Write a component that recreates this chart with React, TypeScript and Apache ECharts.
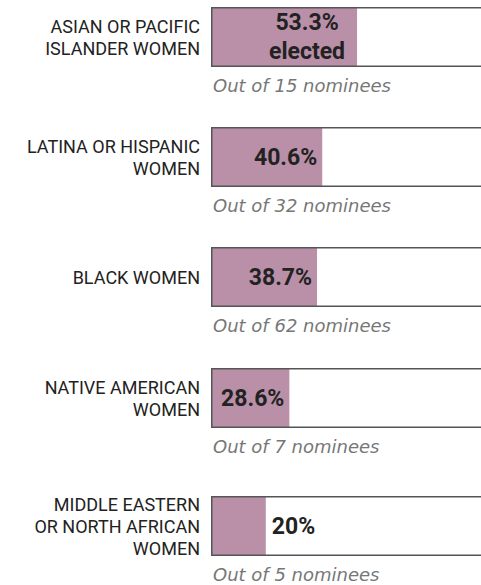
import React, { useEffect, useRef } from "react";
import * as echarts from "echarts";

// ---- data ----
const categories = [
  "ASIAN OR PACIFIC\nISLANDER WOMEN",
  "LATINA OR HISPANIC\nWOMEN",
  "BLACK WOMEN",
  "NATIVE AMERICAN\nWOMEN",
  "MIDDLE EASTERN\nOR NORTH AFRICAN\nWOMEN",
];
const electedPct = [53.3, 40.6, 38.7, 28.6, 20];
const nominees = [15, 32, 62, 7, 5];
const fullScale = [100, 100, 100, 100, 100];
const valueNotes = ["elected", "", "", "", ""];

// ---- layout ----
const VIEW_W = 481;
const CHART_W = 495;
const ROW_TOPS = [7, 127, 247, 368, 496];
const ROW_H = 60;
const GRID_LEFT = 211;
const GRID_W = 274;
const FILL = "#b990a8";
const BORDER = "#555555";
const INK = "#222222";
const SUB = "#777777";
const FONT = "Roboto";

export default function App() {
  const ref = useRef<HTMLDivElement>(null);
  useEffect(() => {
    document.body.style.margin = "0";
    const chart = echarts.init(ref.current!, null, { renderer: "svg" });
    const grid: any[] = [];
    const xAxis: any[] = [];
    const yAxis: any[] = [];
    const series: any[] = [];
    categories.forEach((cat, i) => {
      grid.push({ left: GRID_LEFT, width: GRID_W, top: ROW_TOPS[i], height: ROW_H });
      xAxis.push({
        gridIndex: i,
        type: "value",
        min: 0,
        max: 100,
        axisLine: { show: false },
        axisTick: { show: false },
        axisLabel: { show: false },
        splitLine: { show: false },
        name: `Out of ${nominees[i]} nominees`,
        nameLocation: "start",
        nameGap: -2,
        nameTextStyle: {
          align: "left",
          verticalAlign: "top",
          fontFamily: "DejaVu Sans",
          fontStyle: "italic",
          fontSize: 18,
          lineHeight: 20,
          color: SUB,
          padding: [8, 0, 0, 0],
        },
      });
      yAxis.push({
        gridIndex: i,
        type: "category",
        data: [cat],
        axisLine: { show: false },
        axisTick: { show: false },
        axisLabel: {
          margin: 11,
          fontFamily: FONT,
          fontSize: 18,
          lineHeight: 22,
          color: INK,
          align: "right",
        },
      });
      const v = electedPct[i];
      const note = valueNotes[i];
      const inside = v >= 25;
      const txt = { fontFamily: FONT, fontWeight: "bold", fontSize: 23, lineHeight: 29, color: INK, align: "center" };
      series.push({
        type: "bar",
        xAxisIndex: i,
        yAxisIndex: i,
        barWidth: ROW_H,
        barGap: "-100%",
        data: [
          {
            value: v,
            label: {
              show: true,
              position: inside ? "insideRight" : "right",
              distance: note ? 12 : inside ? 5 : 6,
              formatter: () => (note ? `{v|${v}%}\n{v|${note}}` : `${v}%`),
              fontFamily: FONT,
              fontWeight: "bold",
              fontSize: 23,
              lineHeight: 29,
              color: INK,
              rich: { v: txt },
            },
          },
        ],
        itemStyle: { color: FILL },
        z: 2,
      });
      series.push({
        type: "bar",
        xAxisIndex: i,
        yAxisIndex: i,
        barWidth: ROW_H,
        barGap: "-100%",
        data: [fullScale[i]],
        itemStyle: { color: "rgba(0,0,0,0)", borderColor: BORDER, borderWidth: 1.5 },
        silent: true,
        z: 3,
      });
    });
    chart.setOption({
      animation: false,
      backgroundColor: "#ffffff",
      grid,
      xAxis,
      yAxis,
      series,
    });
    return () => chart.dispose();
  }, []);
  return (
    <div style={{ width: VIEW_W, height: 585, overflow: "hidden" }}>
      <div ref={ref} style={{ width: CHART_W, height: 585 }} />
    </div>
  );
}
